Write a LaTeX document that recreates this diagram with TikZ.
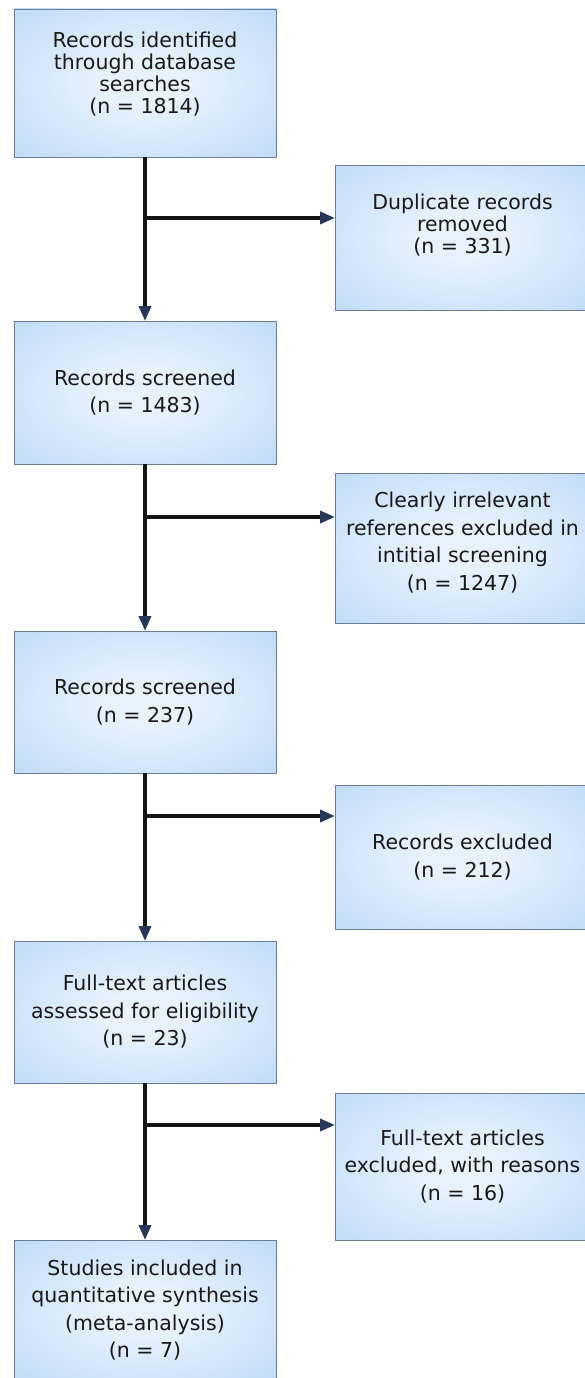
\documentclass[tikz,border=0pt]{standalone}
\usepackage{fontspec}
\setmainfont{DejaVu Sans}
\usetikzlibrary{arrows.meta}
\definecolor{boxdark}{RGB}{155,198,242}
\definecolor{boxlight}{RGB}{232,242,253}
\definecolor{boxline}{RGB}{105,125,152}
\definecolor{tipblue}{RGB}{38,55,88}
\pgfdeclareradialshading{boxglow}{\pgfpoint{0bp}{0bp}}{color(0bp)=(boxlight); color(8bp)=(boxlight); color(62bp)=(boxdark)}
\tikzset{
  stage/.style={draw=boxline,line width=0.9pt,shading=boxglow,align=center,text=black!90,inner sep=0pt,outer sep=0pt,minimum width=262pt,font=\fontsize{20.5}{27.5}\selectfont},
  side/.style={stage,minimum width=255pt},
  tight/.style={font=\fontsize{20.5}{22}\selectfont},
  flow/.style={line width=3.4pt,draw=black!92,-{Triangle[length=15pt,width=12pt,color=tipblue]}}
}
\begin{document}
\begin{tikzpicture}[x=1pt,y=-1pt]
\useasboundingbox (0,0) rectangle (585,1378);
\clip (0,0) rectangle (585,1378);
\fill[white] (0,0) rectangle (585,1378);
\node[stage,minimum height=148pt,tight,text depth=20pt] (ident) at (145,83) {Records identified\\through database\\searches\\(n = 1814)};
\node[side,minimum height=145pt,tight,text depth=28pt] (dup) at (462.5,237.5) {Duplicate records\\removed\\(n = 331)};
\node[stage,minimum height=143pt] (scr1) at (145,392.5) {Records screened\\(n = 1483)};
\node[side,minimum height=150pt,text depth=14pt] (irrel) at (462.5,548) {Clearly irrelevant\\references excluded in\\intitial screening\\(n = 1247)};
\node[stage,minimum height=142pt] (scr2) at (145,702) {Records screened\\(n = 237)};
\node[side,minimum height=144pt] (excl) at (462.5,857) {Records excluded\\(n = 212)};
\node[stage,minimum height=142pt] (full) at (145,1012) {Full-text articles\\assessed for eligibility\\(n = 23)};
\node[side,minimum height=147pt] (fullx) at (462.5,1166.5) {Full-text articles\\excluded, with reasons\\(n = 16)};
\node[stage,minimum height=140pt] (incl) at (145,1310) {Studies included in\\quantitative synthesis\\(meta-analysis)\\(n = 7)};
\coordinate (j1) at (145,218);
\coordinate (j2) at (145,517);
\coordinate (j3) at (145,816);
\coordinate (j4) at (145,1125);
\draw[flow] (ident) -- (scr1);
\draw[flow] (scr1) -- (scr2);
\draw[flow] (scr2) -- (full);
\draw[flow] (full) -- (incl);
\draw[flow] (j1) -- (j1 -| dup.west);
\draw[flow] (j2) -- (j2 -| irrel.west);
\draw[flow] (j3) -- (j3 -| excl.west);
\draw[flow] (j4) -- (j4 -| fullx.west);
\end{tikzpicture}
\end{document}
